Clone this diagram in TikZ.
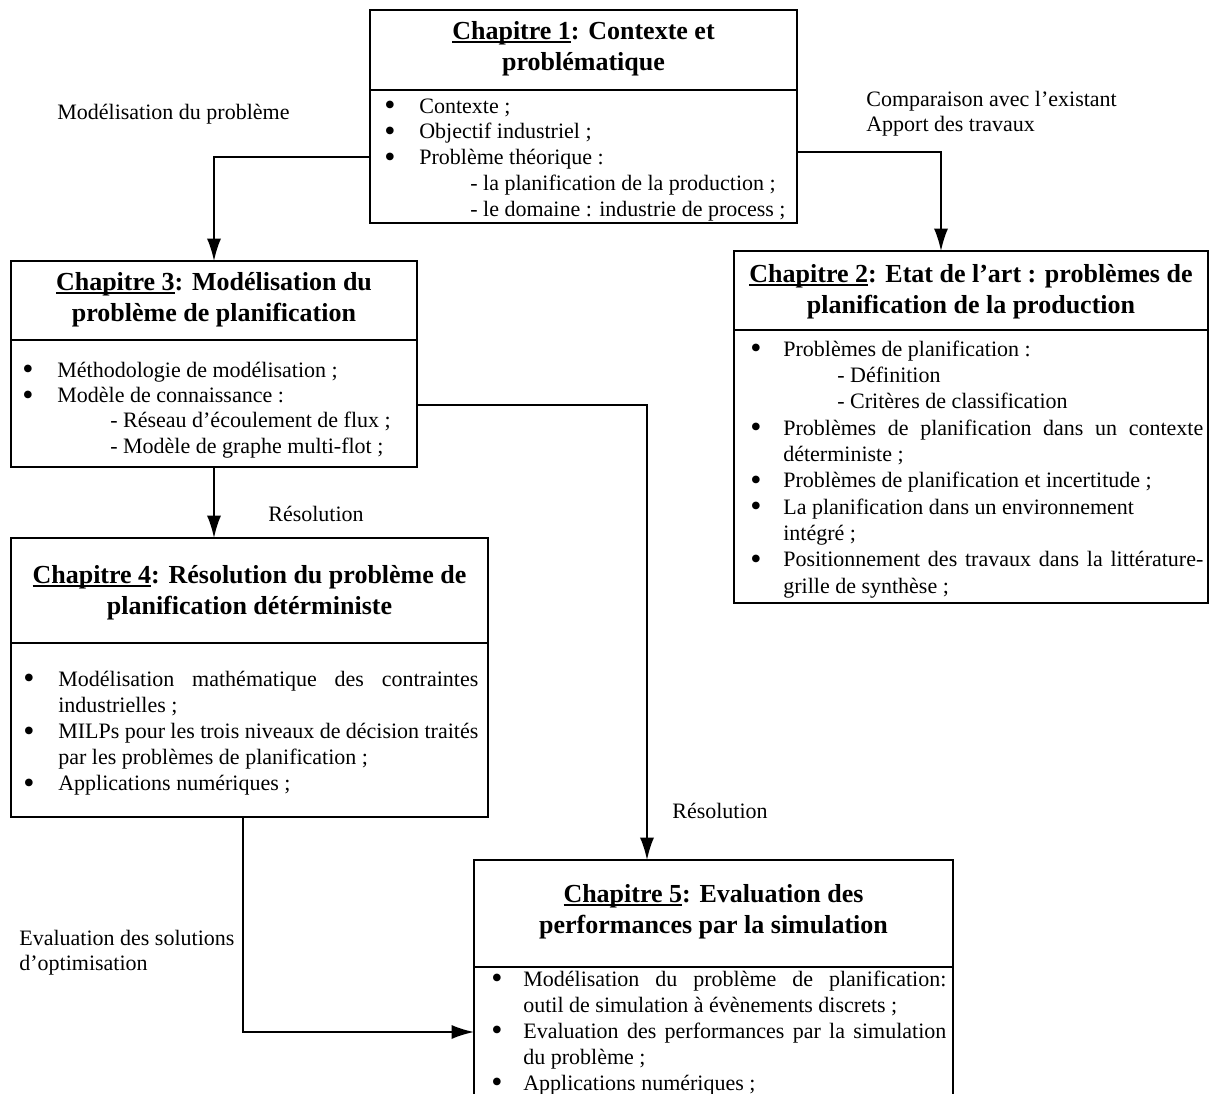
\documentclass[tikz,border=0pt]{standalone}
\usepackage{fontspec}
\usepackage{graphicx}
\setmainfont{Liberation Serif}
\usetikzlibrary{arrows.meta}
\newlength\bind
\newlength\sind
\newcommand\bul{\smash{\raisebox{-0.13em}{\scalebox{1.45}{\textbullet}}}}
\newcommand\LB[1]{\hbox to \linewidth{\makebox[\bind][l]{\bul}#1\hfil}}
\newcommand\LBJ[1]{\hbox to \linewidth{\makebox[\bind][l]{\bul}\makebox[\dimexpr\linewidth-\bind\relax][s]{#1}}}
\newcommand\LC[1]{\hbox to \linewidth{\hspace*{\bind}#1\hfil}}
\newcommand\LS[1]{\hbox to \linewidth{\hspace*{\sind}#1\hfil}}
\newcommand\twolines[1]{\begin{tabular}[t]{@{}l@{}}#1\end{tabular}}
\newcommand\uln[1]{\setbox0\hbox{#1}\rlap{\rule[-1.7pt]{\wd0}{0.9pt}}\box0}
\begin{document}
\begin{tikzpicture}[x=0.6pt,y=-0.6pt,
  box/.style={draw, line width=1pt, inner sep=0pt, outer sep=0pt},
  arr/.style={-{Latex[length=13.5pt,width=8.5pt]}, line width=1.1pt},
  ttl/.style={align=center, inner sep=0pt, font=\fontsize{15.6pt}{18.6pt}\selectfont\bfseries},
  bodyn/.style={anchor=base west, inner sep=0pt},
  lbl/.style={anchor=base west, inner sep=0pt, font=\fontsize{13.2pt}{15.5pt}\selectfont}]
\useasboundingbox (0,0) rectangle (1209,1093);
\clip (0,0) rectangle (1209,1093);

% boxes
\node[box, minimum width=256.2pt, minimum height=127.8pt] (c1) at (583.5,116.5) {};
\node[box, minimum width=284.4pt, minimum height=211.2pt] (c2) at (971,427) {};
\node[box, minimum width=243.6pt, minimum height=123.6pt] (c3) at (214,364) {};
\node[box, minimum width=286.2pt, minimum height=167.4pt] (c4) at (249.5,677.5) {};
\node[box, minimum width=287.4pt, minimum height=150pt] (c5) at (713.5,985) {};

% separators
\coordinate (s1) at (0,90);
\coordinate (s2) at (0,330);
\coordinate (s3) at (0,340);
\coordinate (s4) at (0,643);
\coordinate (s5) at (0,967);
\draw[line width=1pt] (c1.west |- s1) -- (c1.east |- s1);
\draw[line width=1pt] (c2.west |- s2) -- (c2.east |- s2);
\draw[line width=1pt] (c3.west |- s3) -- (c3.east |- s3);
\draw[line width=1pt] (c4.west |- s4) -- (c4.east |- s4);
\draw[line width=1pt] (c5.west |- s5) -- (c5.east |- s5);

% titles
\node[ttl] (t1) at (583.5,49) {\uln{Chapitre 1}: Contexte et\\problématique};
\node[ttl] (t2) at (971,292) {\uln{Chapitre 2}: Etat de l’art : problèmes de\\planification de la production};
\node[ttl] (t3) at (214,300) {\uln{Chapitre 3}: Modélisation du\\problème de planification};
\node[ttl] (t4) at (249.5,593) {\uln{Chapitre 4}: Résolution du problème de\\planification détérministe};
\node[ttl] (t5) at (713.5,912) {\uln{Chapitre 5}: Evaluation des\\performances par la simulation};

% bodies
\node[bodyn] (b1) at (384,113) {\setlength\bind{21pt}\setlength\sind{51.6pt}\parbox[t]{243.6pt}{\fontsize{13.2pt}{15.45pt}\selectfont
\LB{Contexte ;}
\LB{Objectif industriel ;}
\LB{Problème théorique :}
\LS{- la planification de la production ;}
\LS{- le domaine : industrie de process ;}}};

\node[bodyn] (b2) at (750,356) {\setlength\bind{19.8pt}\setlength\sind{52.2pt}\parbox[t]{271.8pt}{\fontsize{13.2pt}{15.8pt}\selectfont
\LB{Problèmes de planification :}
\LS{- Définition}
\LS{- Critères de classification}
\LBJ{Problèmes de planification dans un contexte}
\LC{déterministe ;}
\LB{Problèmes de planification et incertitude ;}
\LB{La planification dans un environnement}
\LC{intégré ;}
\LBJ{Positionnement des travaux dans la littérature-}
\LC{grille de synthèse ;}}};

\node[bodyn] (b3) at (22,377) {\setlength\bind{21pt}\setlength\sind{52.8pt}\parbox[t]{234pt}{\fontsize{13.2pt}{15.2pt}\selectfont
\LB{Méthodologie de modélisation ;}
\LB{Modèle de connaissance :}
\LS{- Réseau d’écoulement de flux ;}
\LS{- Modèle de graphe multi-flot ;}}};

\node[bodyn] (b4) at (23,686) {\setlength\bind{21pt}\parbox[t]{273pt}{\fontsize{13.2pt}{15.7pt}\selectfont
\LBJ{Modélisation mathématique des contraintes}
\LC{industrielles ;}
\LBJ{MILPs pour les trois niveaux de décision traités}
\LC{par les problèmes de planification ;}
\LB{Applications numériques ;}}};

\node[bodyn] (b5) at (491,986) {\setlength\bind{19.2pt}\parbox[t]{273pt}{\fontsize{13.2pt}{15.6pt}\selectfont
\LBJ{Modélisation du problème de planification:}
\LC{outil de simulation à évènements discrets ;}
\LBJ{Evaluation des performances par la simulation}
\LC{du problème ;}
\LB{Applications numériques ;}}};

% labels
\node[lbl] (l1) at (57,119) {Modélisation du problème};
\node[lbl] (l2) at (866,106) {\twolines{Comparaison avec l’existant\\Apport des travaux}};
\node[lbl] (l3) at (268,521) {Résolution};
\node[lbl] (l4) at (672,818) {Résolution};
\node[lbl] (l5) at (19,945) {\twolines{Evaluation des solutions\\d’optimisation}};

% connectors
\coordinate (p1) at (0,157);
\coordinate (p2) at (941,152);
\coordinate (p3) at (647,405);
\coordinate (p4) at (243,1032);
\draw[arr] (c1.west |- p1) -| (c3.north);
\draw[arr] (c1.east |- p2) -| (p2 |- c2.north);
\draw[arr] (c3.east |- p3) -| (p3 |- c5.north);
\draw[arr] (c3.south) -- (c3.south |- c4.north);
\draw[arr] (p4 |- c4.south) |- (c5.west |- p4);
\end{tikzpicture}
\end{document}
